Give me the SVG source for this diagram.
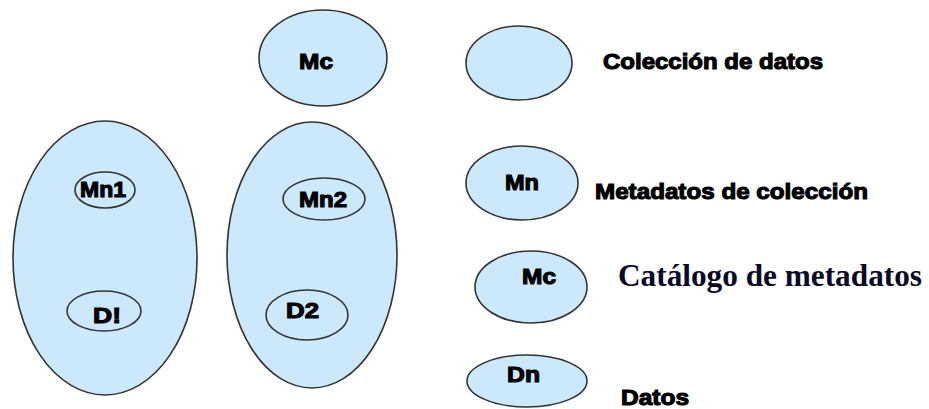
<svg xmlns="http://www.w3.org/2000/svg" width="929" height="409" viewBox="0 0 929 409">
  <style>
    .blob { fill: #cce9fc; stroke: #333333; stroke-width: 1.6; }
    .lbl { font-family: "Liberation Sans", Arial, sans-serif; font-weight: bold; font-size: 22px; fill: #000000; stroke: #000000; stroke-width: 1.1; }
    .cap { font-family: "Liberation Serif", "Times New Roman", serif; font-weight: bold; font-size: 31px; fill: #0a0a26; }
  </style>
  <rect width="929" height="409" fill="#ffffff"/>

  <!-- first data collection -->
  <g id="collection1">
    <ellipse class="blob" cx="105" cy="258" rx="92" ry="137"/>
    <g id="mn1">
      <ellipse class="blob" cx="105" cy="190" rx="30" ry="18"/>
      <text class="lbl" x="80" y="197" textLength="46" lengthAdjust="spacingAndGlyphs">Mn1</text>
    </g>
    <g id="d1">
      <ellipse class="blob" cx="104" cy="311" rx="37" ry="20"/>
      <text class="lbl" x="93" y="323" textLength="28" lengthAdjust="spacingAndGlyphs">D!</text>
    </g>
  </g>

  <!-- metadata catalogue -->
  <g id="mc">
    <ellipse class="blob" cx="323" cy="58" rx="64" ry="48"/>
    <text class="lbl" x="299" y="69" textLength="34" lengthAdjust="spacingAndGlyphs">Mc</text>
  </g>

  <!-- second data collection -->
  <g id="collection2">
    <ellipse class="blob" cx="312" cy="255" rx="85" ry="133"/>
    <g id="mn2">
      <ellipse class="blob" cx="324" cy="199" rx="41" ry="21"/>
      <text class="lbl" x="299" y="207" textLength="48" lengthAdjust="spacingAndGlyphs">Mn2</text>
    </g>
    <g id="d2">
      <ellipse class="blob" cx="307" cy="315" rx="41" ry="25"/>
      <text class="lbl" x="286" y="318" textLength="33" lengthAdjust="spacingAndGlyphs">D2</text>
    </g>
  </g>

  <!-- legend -->
  <g id="legend-collection">
    <ellipse class="blob" cx="519" cy="63" rx="53" ry="37"/>
    <text class="lbl" x="603" y="69" textLength="220" lengthAdjust="spacingAndGlyphs">Colección de datos</text>
  </g>
  <g id="legend-mn">
    <ellipse class="blob" cx="522" cy="183" rx="56" ry="37"/>
    <text class="lbl" x="505" y="190" textLength="34" lengthAdjust="spacingAndGlyphs">Mn</text>
    <text class="lbl" x="595" y="199" textLength="273" lengthAdjust="spacingAndGlyphs">Metadatos de colección</text>
  </g>
  <g id="legend-mc">
    <ellipse class="blob" cx="531" cy="287" rx="56" ry="36"/>
    <text class="lbl" x="522" y="284" textLength="34" lengthAdjust="spacingAndGlyphs">Mc</text>
    <text class="cap" x="618" y="286" textLength="304" lengthAdjust="spacingAndGlyphs">Catálogo de metadatos</text>
  </g>
  <g id="legend-dn">
    <ellipse class="blob" cx="527" cy="381" rx="60" ry="26"/>
    <text class="lbl" x="507" y="382" textLength="33" lengthAdjust="spacingAndGlyphs">Dn</text>
    <text class="lbl" x="621" y="405" textLength="68" lengthAdjust="spacingAndGlyphs">Datos</text>
  </g>

  <!-- no connectors are drawn between the shapes -->
  <g id="connectors"/>
</svg>
